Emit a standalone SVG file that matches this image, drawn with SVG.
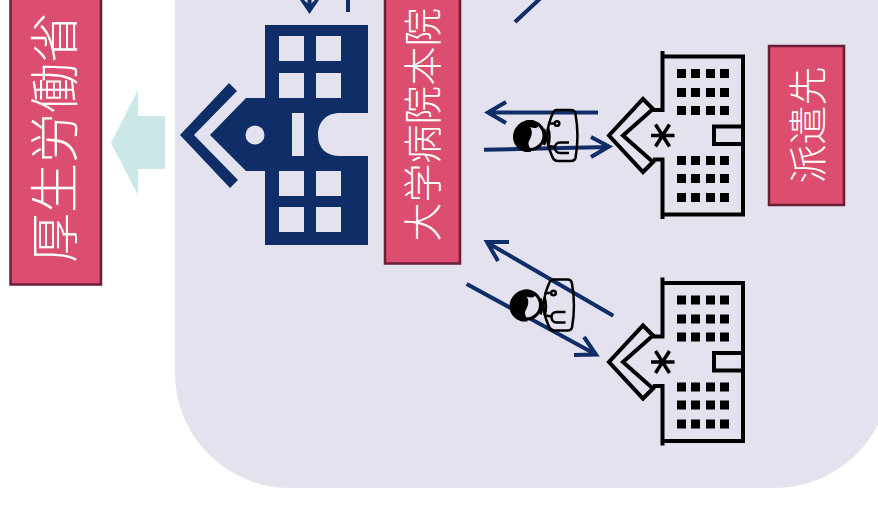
<svg xmlns="http://www.w3.org/2000/svg" xmlns:xlink="http://www.w3.org/1999/xlink" width="878" height="509" viewBox="0 0 878 509">
<style>
.lbl{fill:#db4e6f;stroke:#6b1e36;stroke-width:2.5}
.t{fill:#fff;font-family:"Noto Sans CJK JP","Noto Sans",sans-serif;text-anchor:middle;font-weight:300}
.nv{fill:#0f2d66}
.w{fill:#e3e2ee}
.c{fill:none;stroke:#0f2d66;stroke-width:4}
.k{fill:none;stroke:#000;stroke-width:4}
.d{fill:none;stroke:#000;stroke-width:2.500}
</style>
<defs>
<g id="hosp">
<path class="k" d="M662.500 51V110H653M662.500 219V159.500H653M662.500 56.500H743V214.500H662.500"/>
<path class="k" d="M643 99L653 109L623 135.500L653 162L643 172L609 135.500Z"/>
<path class="k" d="M743 126.500H714V144H743"/>
<path d="M651 135.500H674.500M655.500 124.500L669.500 146.500M669.500 124.500L655.500 146.500" stroke="#000" stroke-width="3.500" fill="none"/>
<path d="M677 69h9v9h-9zM691 69h9v9h-9zM706 69h9v9h-9zM720 69h9v9h-9zM677 88h9v9h-9zM691 88h9v9h-9zM706 88h9v9h-9zM720 88h9v9h-9zM677 106h9v9h-9zM691 106h9v9h-9zM706 106h9v9h-9zM720 106h9v9h-9zM677 156h9v9h-9zM691 156h9v9h-9zM706 156h9v9h-9zM720 156h9v9h-9zM677 174h9v9h-9zM691 174h9v9h-9zM706 174h9v9h-9zM720 174h9v9h-9zM677 193h9v9h-9zM691 193h9v9h-9zM706 193h9v9h-9zM720 193h9v9h-9z"/>
</g>
<g id="doc">
<path class="d" d="M556 110H571C574 110 575 111 575.500 114C578 128 578 144 575.500 158C575 160 574 161 571 161H558C555 161 553 159 552 156C549 149 547 143 547 136C547 128 551 117 553 113C554 111 555 110 556 110Z"/>
<path class="d" d="M544 129C546 133 546 141 544 145M548 128C550 133 550 141 548 146" stroke-width="2"/>
<circle class="d" cx="557" cy="123.500" r="2.300" stroke-width="1.500"/>
<path class="d" d="M554.500 123.500H548M549 146L555 147" stroke-width="1.500"/>
<path class="d" d="M569 142.500H560C557 142.500 555 144.500 555 147.500C555 150.500 557 153 560 153H569"/>
<circle cx="530" cy="135.500" r="14" class="w" stroke="#000" stroke-width="3"/>
<path d="M531 120C520 120 513 128 513 137C513 145 519 150 525 152L531 152C531 147 527 146 529 141C532 136 533 131 530 127C535 129 541 128 537 123C535 121 533 120 531 120Z"/>
</g>
</defs>
<rect width="878" height="509" fill="#fff"/>
<rect id="panel" x="175" y="-120" width="715" height="608" rx="115" fill="#e3e2ee"/>
<g id="connectors">
<path class="nv" d="M300 0H304L309.500 5L315 0H319L309.500 14Z"/>
<path class="c" d="M309.500 -5V8"/>
<path class="c" d="M348 0V12"/>
<path class="c" d="M515 22L545 -6"/>
<path class="c" d="M598 112.500H488M506 102L488 112.500L506 123"/>
<path class="c" d="M484 149.700L608 147M591 137L609 146.500L591 157"/>
<path class="c" d="M613.300 315.700L488 243M509 242L487 242L498 261"/>
<path class="c" d="M466.700 284L596 354.500M584 337L596 354.500L574 355"/>
</g>
<polygon id="flow" points="111,143 138,90 138,116 165,116 165,169 138,169 138,195" fill="#cbe7e7"/>
<g id="mhlw">
<rect class="lbl" x="10.500" y="-20" width="90.500" height="304.500"/>
<text class="t" font-size="50" transform="translate(73,138) rotate(-90)">厚生労働省</text>
</g>
<g id="univ-hospital">
<path class="nv" d="M265 25H368V113H340C326 113 318 122 318 135C318 148 326 156 340 156H368V245H265V171H246L210 135L246 98H265Z"/>
<path class="nv" d="M229 83L237 91L194 135L238 180L230 188L180 135Z"/>
<path class="w" d="M279 36h25v25h-25zM316 36h25v25h-25zM279 73h25v25h-25zM316 73h25v25h-25zM279 171h25v25h-25zM316 171h25v25h-25zM279 207h25v25h-25zM316 207h25v25h-25zM292 113h12v43h-12z"/>
<circle class="w" cx="255" cy="135" r="9.500"/>
</g>
<g id="honin">
<rect class="lbl" x="385" y="-20" width="75" height="283.500"/>
<text class="t" font-size="39" transform="translate(437,124.500) rotate(-90)">大学病院本院</text>
</g>
<g id="hospital-1"><use xlink:href="#hosp" href="#hosp"/></g>
<g id="hospital-2"><use xlink:href="#hosp" href="#hosp" transform="translate(0,226.500)"/></g>
<g id="doctor-1"><use xlink:href="#doc" href="#doc"/></g>
<g id="doctor-2"><use xlink:href="#doc" href="#doc" transform="translate(-3.500,169.500)"/></g>
<g id="haken">
<rect class="lbl" x="769" y="46" width="75" height="159"/>
<text class="t" font-size="39" transform="translate(822,125) rotate(-90)">派遣先</text>
</g>
</svg>
